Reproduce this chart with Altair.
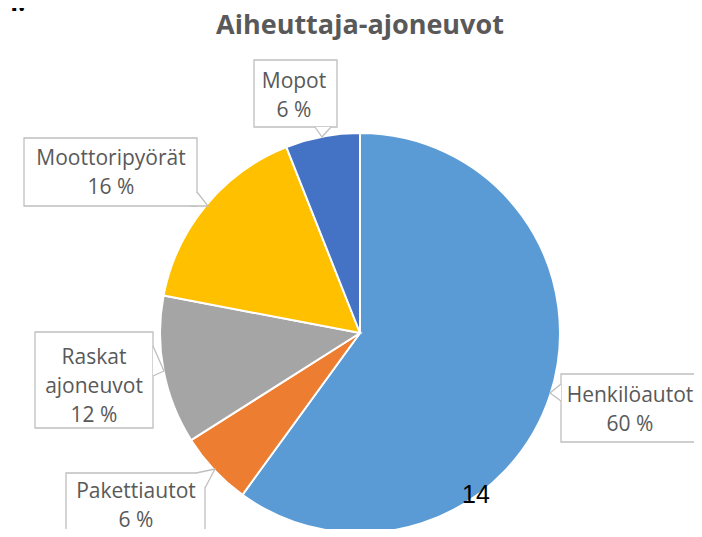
import altair as alt
import pandas as pd

# ---- data ----
categories = ["Henkilöautot", "Pakettiautot", "Raskat ajoneuvot", "Moottoripyörät", "Mopot"]
shares = [60, 6, 12, 16, 6]
colors = ["#5B9BD5", "#ED7D31", "#A5A5A5", "#FFC000", "#4472C4"]
label_lines = [["Henkilöautot", "60 %"], ["Pakettiautot", "6 %"],
               ["Raskat", "ajoneuvot", "12 %"], ["Moottoripyörät", "16 %"], ["Mopot", "6 %"]]
title_text = "Aiheuttaja-ajoneuvot"

# ---- layout (page pixels) ----
W, H = 686, 521
CX, CY, R = 360, 333, 200
boxes = {  # x0, x1, y0, y1
    "Henkilöautot": (561, 708, 374, 442),
    "Pakettiautot": (66, 205, 473, 545),
    "Raskat ajoneuvot": (35, 153, 332, 428),
    "Moottoripyörät": (24, 197, 138, 206),
    "Mopot": (254, 337, 60, 127),
}
text_pos = {  # center x, first baseline y
    "Henkilöautot": (630, 402),
    "Pakettiautot": (136, 498),
    "Raskat ajoneuvot": (94, 364),
    "Moottoripyörät": (111, 165),
    "Mopot": (294, 88),
}
pointers = {  # base1, tip, base2
    "Henkilöautot": [(561, 384), (550, 393), (561, 401)],
    "Pakettiautot": [(196, 473), (215, 469), (205, 488)],
    "Raskat ajoneuvot": [(153, 346), (164, 371), (153, 376)],
    "Moottoripyörät": [(197, 192), (208, 206), (190, 206)],
    "Mopot": [(315, 127), (322, 137), (331, 127)],
}
LINE_H = 29

xs = alt.Scale(domain=[8, 8 + W], range=[0, W])
ys = alt.Scale(domain=[8, 8 + H], range=[0, H])

pie_df = pd.DataFrame({"cat": categories, "share": shares, "ord": list(range(len(categories)))})
pie = alt.Chart(pie_df).mark_arc(outerRadius=R, stroke="white", strokeWidth=2).encode(
    theta=alt.Theta("share:Q", stack=True),
    order=alt.Order("ord:Q"),
    color=alt.Color("cat:N", scale=alt.Scale(domain=categories, range=colors), legend=None),
    x=alt.value(CX - 8),
    y=alt.value(CY - 8),
)

box_df = pd.DataFrame([{"cat": c, "x0": b[0], "x1": b[1], "y0": b[2], "y1": b[3]} for c, b in boxes.items()])
box = alt.Chart(box_df).mark_rect(fill="white", stroke="#BFBFBF", strokeWidth=1.3).encode(
    x=alt.X("x0:Q", scale=xs, axis=None), x2="x1:Q",
    y=alt.Y("y0:Q", scale=ys, axis=None), y2="y1:Q",
)

prow = []
for c, pts in pointers.items():
    for i, (px, py) in enumerate(pts):
        prow.append({"cat": c, "i": i, "px": px, "py": py})
p_df = pd.DataFrame(prow)
pointer = alt.Chart(p_df).mark_line(fill="white", stroke="#BFBFBF", strokeWidth=1.3).encode(
    x=alt.X("px:Q", scale=xs, axis=None),
    y=alt.Y("py:Q", scale=ys, axis=None),
    detail="cat:N",
    order="i:Q",
)

trow = []
for c, lines in zip(categories, label_lines):
    tx, ty = text_pos[c]
    for k, ln in enumerate(lines):
        trow.append({"t": ln, "tx": tx, "ty": ty + k * LINE_H})
t_df = pd.DataFrame(trow)
labels = alt.Chart(t_df).mark_text(font="Open Sans", fontSize=21, color="#595959", baseline="alphabetic", align="center").encode(
    x=alt.X("tx:Q", scale=xs, axis=None),
    y=alt.Y("ty:Q", scale=ys, axis=None),
    text="t:N",
)

misc_df = pd.DataFrame({"t": [title_text], "tx": [360], "ty": [34]})
title = alt.Chart(misc_df).mark_text(font="Open Sans", fontSize=27, fontWeight="bold", color="#595959", baseline="alphabetic", align="center").encode(
    x=alt.X("tx:Q", scale=xs, axis=None),
    y=alt.Y("ty:Q", scale=ys, axis=None),
    text="t:N",
)

extra_df = pd.DataFrame({"t": ["14", "n."], "tx": [476, 1], "ty": [503, 11]})
page_num = alt.Chart(extra_df.iloc[[0]]).mark_text(font="Liberation Sans", fontSize=25, color="black", baseline="alphabetic", align="center").encode(
    x=alt.X("tx:Q", scale=xs, axis=None),
    y=alt.Y("ty:Q", scale=ys, axis=None),
    text="t:N",
)
corner = alt.Chart(extra_df.iloc[[1]]).mark_text(font="Open Sans", fontSize=26, fontWeight="bold", color="black", baseline="alphabetic", align="left").encode(
    x=alt.X("tx:Q", scale=xs, axis=None),
    y=alt.Y("ty:Q", scale=ys, axis=None),
    text="t:N",
)

chart = alt.layer(pie, box, pointer, labels, title, page_num, corner).properties(
    width=W, height=H, padding=0, autosize=alt.AutoSizeParams(type="none")
).configure_view(stroke=None)

chart.save("out.html", embed_options={"renderer": "svg", "actions": False})
